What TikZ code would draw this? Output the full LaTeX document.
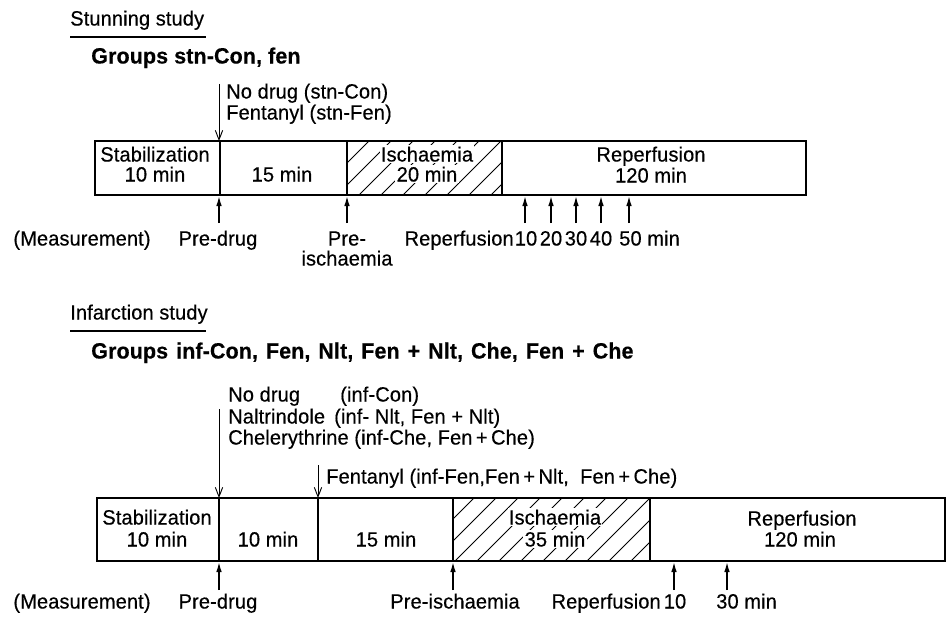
\documentclass[tikz,border=0pt]{standalone}
\usepackage{fontspec}
\setmainfont{Liberation Sans}[LetterSpace=0.5, FakeStretch=0.97, FakeBold=0.4]
\usetikzlibrary{arrows.meta}
\begin{document}
\begin{tikzpicture}[x=0.75pt,y=-0.75pt,
  font=\fontsize{15.5}{18}\selectfont,
  txt/.style={inner sep=0pt, anchor=mid},
  txtl/.style={inner sep=0pt, anchor=mid west},
  intxt/.style={inner sep=1pt, anchor=mid, fill=white},
  ttl/.style={inner sep=0pt, anchor=mid west, font=\fontsize{16.6}{18}\selectfont\bfseries},
  boxline/.style={line width=1.2pt},
  hatch/.style={line width=0.55pt},
  drugarrow/.style={line width=0.7pt, -{Straight Barb[length=7pt,width=5.5pt]}},
  measarrow/.style={line width=1.1pt, -{Latex[length=7.5pt,width=4.2pt]}}
]
\useasboundingbox (0,0) rectangle (946,617);

% ---------------- Stunning study ----------------
\node[txtl] (stunT) at (70,22) {Stunning study};
\coordinate (u1a) at (70,37); \coordinate (u1b) at (206,37);
\draw[line width=0.8pt] (u1a) -- (u1b);
\node[ttl] (stunG) at (91,60) {Groups stn-Con, fen};

\node[txtl] (sd1) at (226,95) {No drug (stn-Con)};
\node[txtl] (sd2) at (226,116) {Fentanyl (stn-Fen)};
\coordinate (sa0) at (219,84); \coordinate (sa1) at (219,141);
\draw[drugarrow] (sa0) -- (sa1);

% hatch
\begin{scope}
  \clip (347,141) rectangle (502,195);
  \foreach \x in {293,315,...,520} \draw[hatch] (\x,195) -- (\x+54,141);
\end{scope}
\draw[boxline] (95,141) rectangle (806,195);
\foreach \x in {220,347,502} \draw[boxline] (\x,141) -- (\x,195);

\node[txt] (sStab) at (155,158) {Stabilization};
\node[txt] (sStabT) at (155,178) {10 min};
\node[txt] (s15) at (282,178) {15 min};
\node[intxt] (sIsc) at (427,158) {Ischaemia};
\node[intxt] (sIscT) at (427,178) {20 min};
\node[txt] (sRep) at (651,158) {Reperfusion};
\node[txt] (sRepT) at (651,179) {120 min};

% measurement arrows
\foreach \x/\n in {219/a,347/b,525/c,551/d,576/e,601/f,629/g} {
  \coordinate (sm\n0) at (\x,223); \coordinate (sm\n1) at (\x,196);
  \draw[measarrow] (sm\n0) -- (sm\n1);
}
\node[txt] (sMeas) at (82,242) {(Measurement)};
\node[txt] (sPreD) at (218,242) {Pre-drug};
\node[txt] (sPreI) at (347,242) {Pre-};
\node[txt] (sPreI2) at (347,262) {ischaemia};
\node[txt,anchor=mid east] (sRepM) at (514,242) {Reperfusion};
\node[txt] (s10) at (526,242) {10};
\node[txt] (s20) at (551,242) {20};
\node[txt] (s30) at (576,242) {30};
\node[txt] (s40) at (601,242) {40};
\node[txtl] (s50) at (619,242) {50 min};

% ---------------- Infarction study ----------------
\node[txtl] (infT) at (70,316) {Infarction study};
\coordinate (u2a) at (70,331); \coordinate (u2b) at (206,331);
\draw[line width=0.8pt] (u2a) -- (u2b);
\node[ttl] (infG) at (91,355) {\spaceskip=0.36em Groups inf-Con, Fen, Nlt, Fen + Nlt, Che, Fen + Che};

\node[txtl] (id1) at (228,398) {No drug};
\node[txtl] (id1b) at (340,398) {(inf-Con)};
\node[txtl] (id2) at (228,420) {Naltrindole};
\node[txtl] (id2b) at (334,420) {(inf- Nlt, Fen + Nlt)};
\node[txtl] (id3) at (228,441) {Chelerythrine (inf-Che, Fen\thinspace+\thinspace Che)};
\node[txtl] (id4) at (326,480) {Fentanyl (inf-Fen,Fen\thinspace+\thinspace Nlt, \ Fen\thinspace+\thinspace Che)};
\coordinate (ia0) at (219,409); \coordinate (ia1) at (219,498);
\draw[drugarrow] (ia0) -- (ia1);
\coordinate (ib0) at (318,465); \coordinate (ib1) at (318,498);
\draw[drugarrow] (ib0) -- (ib1);

\begin{scope}
  \clip (453,498) rectangle (650,561);
  \foreach \x in {389,411,...,660} \draw[hatch] (\x,561) -- (\x+63,498);
\end{scope}
\draw[boxline] (97,498) rectangle (945,561);
\foreach \x in {219,318,453,650} \draw[boxline] (\x,498) -- (\x,561);

\node[txt] (iStab) at (157,521) {Stabilization};
\node[txt] (iStabT) at (157,543) {10 min};
\node[txt] (i10) at (268,543) {10 min};
\node[txt] (i15) at (386,543) {15 min};
\node[intxt] (iIsc) at (555,521) {Ischaemia};
\node[intxt] (iIscT) at (555,543) {35 min};
\node[txt] (iRep) at (802,522) {Reperfusion};
\node[txt] (iRepT) at (800,543) {120 min};

\foreach \x/\n in {219/a,453/b,674/c,727/d} {
  \coordinate (im\n0) at (\x,590); \coordinate (im\n1) at (\x,562);
  \draw[measarrow] (im\n0) -- (im\n1);
}
\node[txt] (iMeas) at (82,605) {(Measurement)};
\node[txt] (iPreD) at (218,605) {Pre-drug};
\node[txt] (iPreI) at (455,605) {Pre-ischaemia};
\node[txt,anchor=mid east] (iRepM) at (661,605) {Reperfusion};
\node[txt] (i10m) at (675,605) {10};
\node[txtl] (i30) at (716,605) {30 min};
\end{tikzpicture}
\end{document}
